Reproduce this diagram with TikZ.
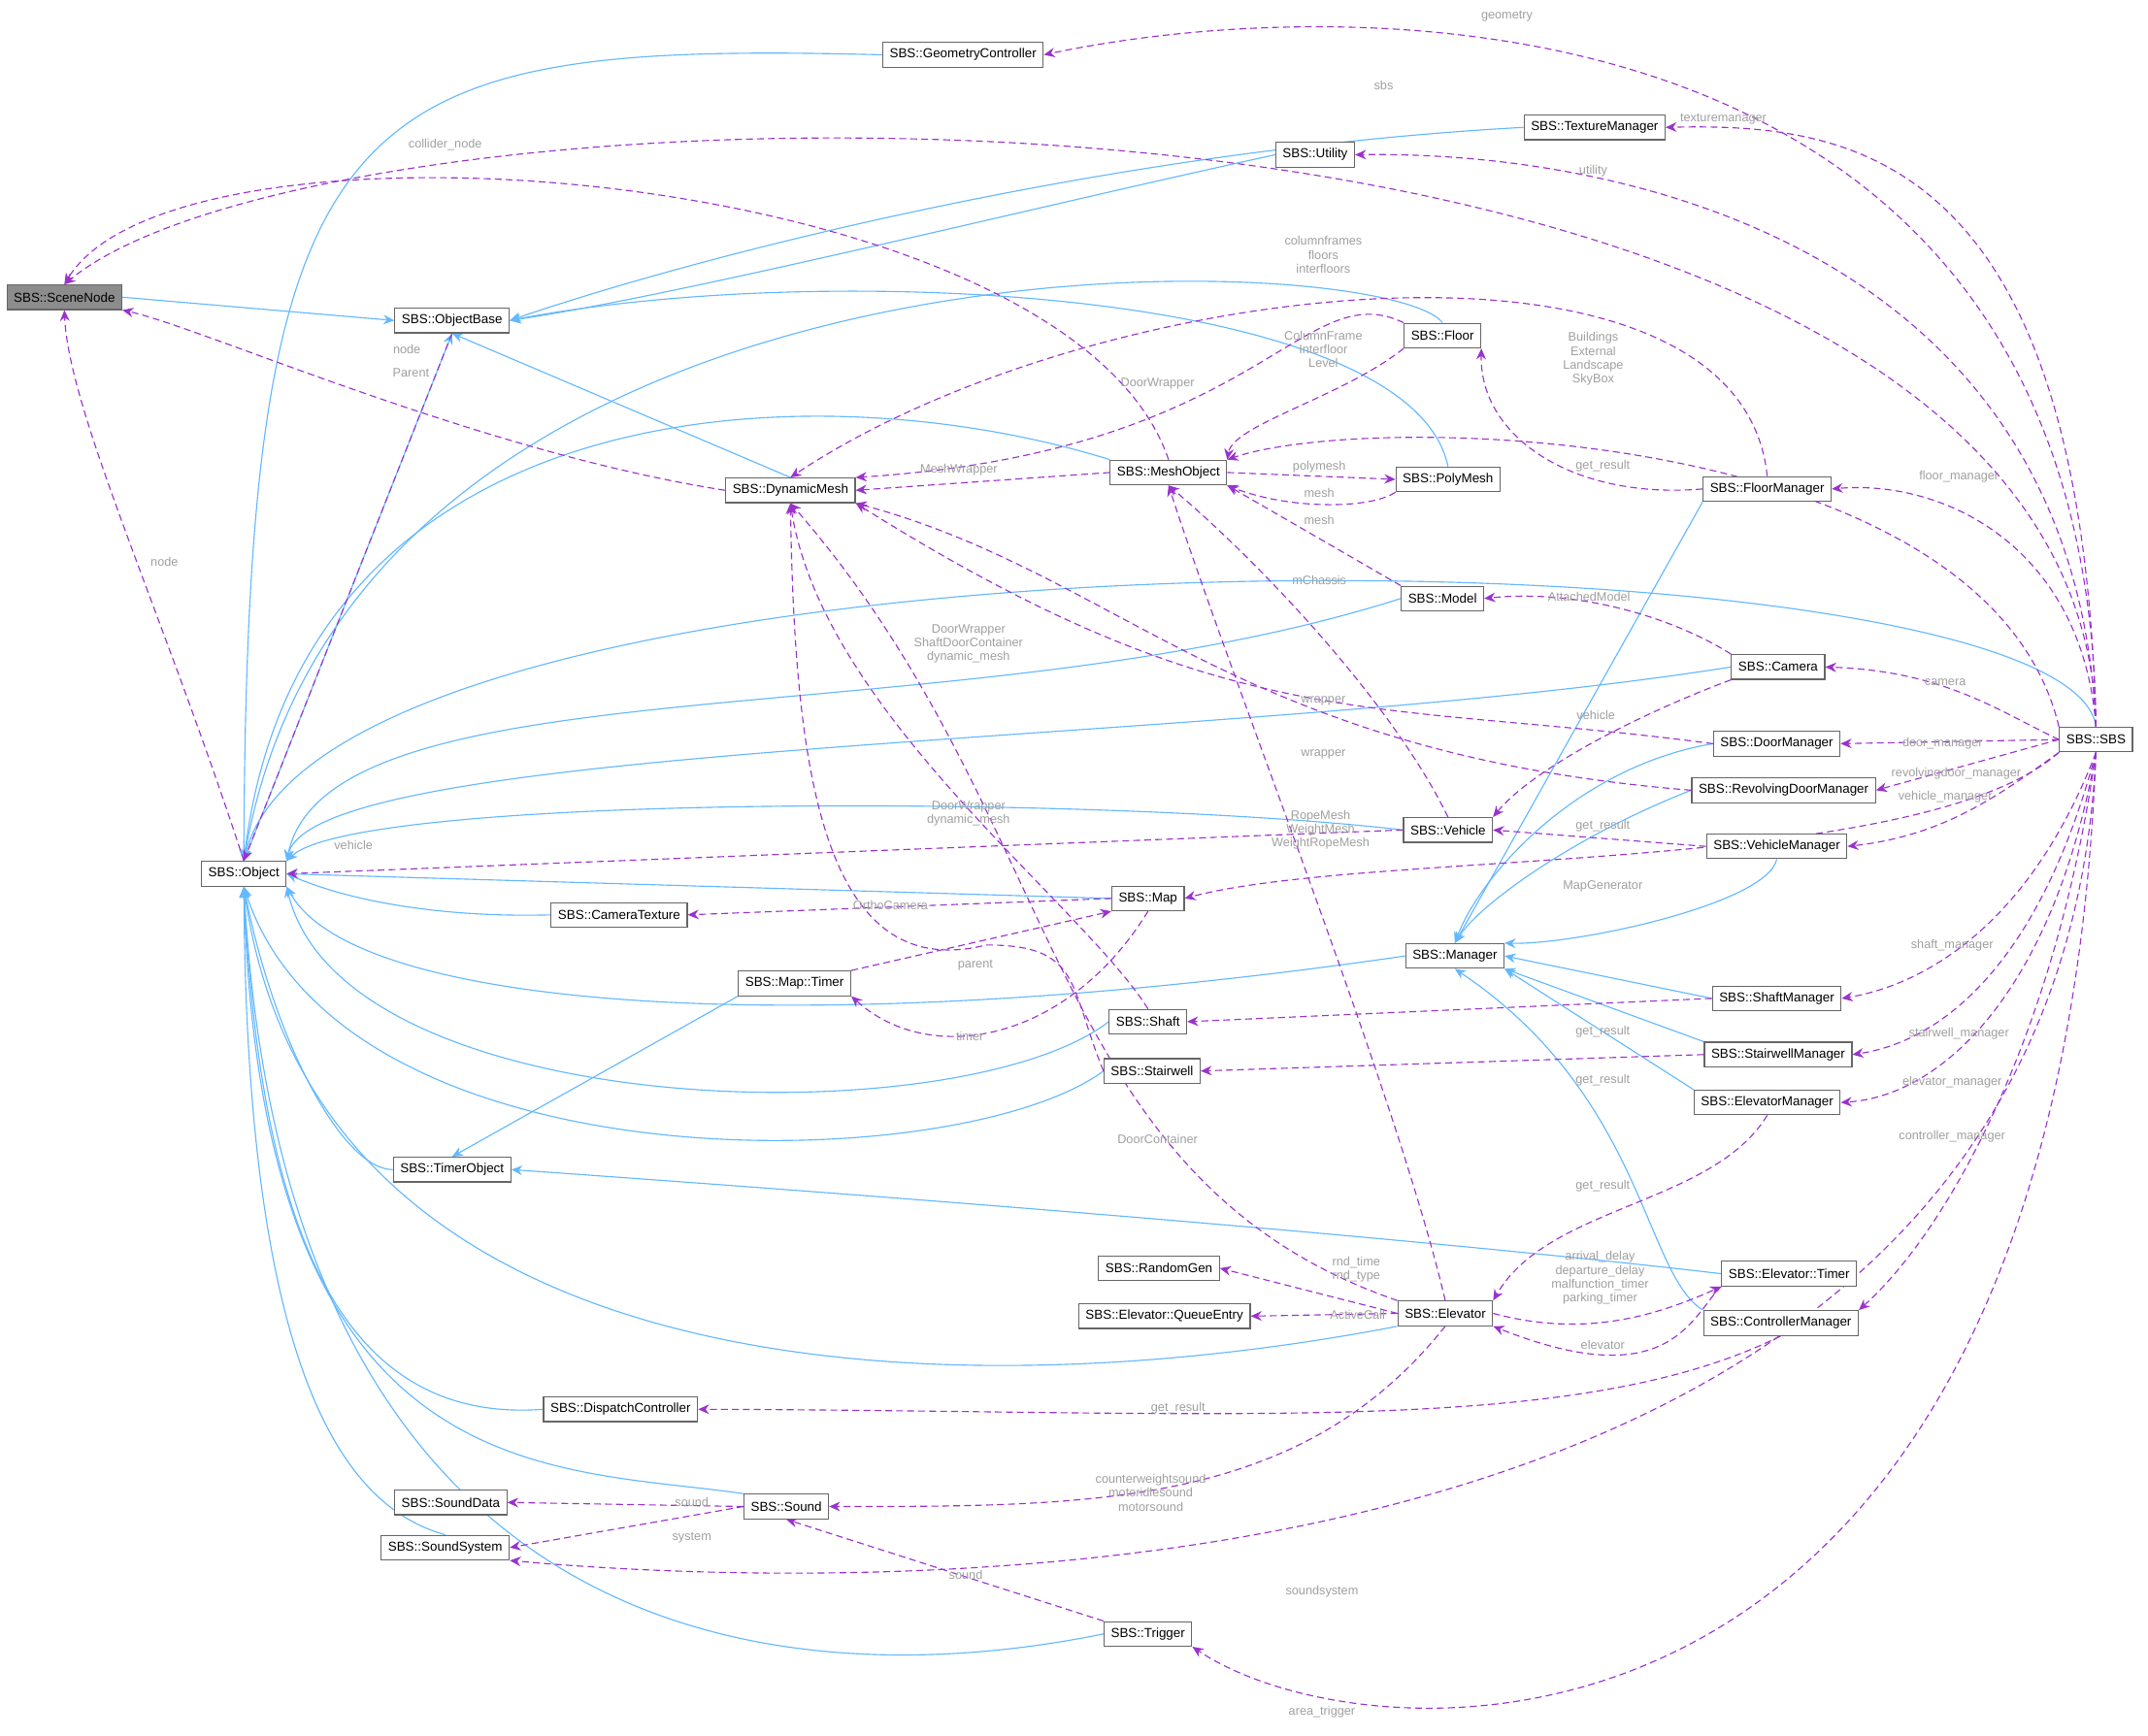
\documentclass[tikz,border=0pt]{standalone}
\usepackage{fontspec}
\setmainfont{Liberation Sans}
\usetikzlibrary{arrows.meta}
\definecolor{inhc}{HTML}{63B8FF}
\definecolor{usec}{HTML}{9A32CD}
\definecolor{lblc}{HTML}{A0A0A0}
\pgfdeclarelayer{bg}
\pgfsetlayers{bg,main}
\begin{document}
\begin{tikzpicture}[x=1pt,y=-1pt,
 cls/.style={draw=black!60,fill=white,line width=0.8pt,inner xsep=5pt,inner ysep=0pt,minimum height=18pt,font=\fontsize{9.5}{11}\selectfont},
 inh/.style={draw=inhc,line width=0.8pt,-{Stealth[length=8pt,width=7pt]}},
 use/.style={draw=usec,line width=0.8pt,dash pattern=on 5pt off 3pt,-{Stealth[length=8pt,width=7pt]}},
 lbl/.style={text=lblc,font=\fontsize{9}{10}\selectfont,align=center,inner sep=0pt}]
\useasboundingbox (0,0) rectangle (1568,1267);
% nodes
\node[cls,fill=black!45] (scn) at (47,217) {SBS::SceneNode};
\node[cls] (ob) at (330,234) {SBS::ObjectBase};
\node[cls] (gc) at (703,40) {SBS::GeometryController};
\node[cls] (tm) at (1164,93) {SBS::TextureManager};
\node[cls] (ut) at (960,113) {SBS::Utility};
\node[cls] (fl) at (1053,245) {SBS::Floor};
\node[cls] (dm) at (577,358) {SBS::DynamicMesh};
\node[cls] (mo) at (853,345) {SBS::MeshObject};
\node[cls] (pm) at (1057,350) {SBS::PolyMesh};
\node[cls] (fm) at (1290,357) {SBS::FloorManager};
\node[cls] (md) at (1053,437) {SBS::Model};
\node[cls] (cam) at (1298,487) {SBS::Camera};
\node[cls] (dmg) at (1297,543) {SBS::DoorManager};
\node[cls] (rdm) at (1302,577) {SBS::RevolvingDoorManager};
\node[cls] (veh) at (1057,606) {SBS::Vehicle};
\node[cls] (vm) at (1297,618) {SBS::VehicleManager};
\node[cls] (sbs) at (1530,540) {SBS::SBS};
\node[cls] (obj) at (178,638) {SBS::Object};
\node[cls] (map) at (838,656) {SBS::Map};
\node[cls] (ct) at (452,668) {SBS::CameraTexture};
\node[cls] (mgr) at (1062,698) {SBS::Manager};
\node[cls] (shm) at (1297,729) {SBS::ShaftManager};
\node[cls] (mt) at (580,718) {SBS::Map::Timer};
\node[cls] (sh) at (838,746) {SBS::Shaft};
\node[cls] (swm) at (1298,770) {SBS::StairwellManager};
\node[cls] (sw) at (841,782) {SBS::Stairwell};
\node[cls] (em) at (1290,805) {SBS::ElevatorManager};
\node[cls] (to) at (330,854) {SBS::TimerObject};
\node[cls] (rg) at (846,926) {SBS::RandomGen};
\node[cls] (qe) at (850,961) {SBS::Elevator::QueueEntry};
\node[cls] (el) at (1055,959) {SBS::Elevator};
\node[cls] (et) at (1306,930) {SBS::Elevator::Timer};
\node[cls] (cm) at (1300,966) {SBS::ControllerManager};
\node[cls] (dc) at (453,1029) {SBS::DispatchController};
\node[cls] (sd) at (329,1097) {SBS::SoundData};
\node[cls] (snd) at (574,1100) {SBS::Sound};
\node[cls] (ss) at (325,1130) {SBS::SoundSystem};
\node[cls] (tr) at (838,1193) {SBS::Trigger};
\begin{pgfonlayer}{bg}
\fill[white] (0,0) rectangle (1568,1267);
% inheritance
\draw[inh] (scn.east) -- (ob.west);
\draw[inh] (obj.north) -- (ob.south);
\draw[inh] (gc.west) .. controls (250,30) and (180,70) .. (obj.north);
\draw[inh] (tm.west) .. controls (800,110) and (500,190) .. (ob.east);
\draw[inh] (ut.west) .. controls (760,150) and (500,215) .. (ob.east);
\draw[inh] (fl.north) .. controls (1010,180) and (260,150) .. (obj.north);
\draw[inh] (pm.north) .. controls (1030,210) and (600,190) .. (ob.east);
\draw[inh] (dm.north) -- (ob.south);
\draw[inh] (mo.north west) .. controls (600,270) and (220,280) .. (obj.north);
\draw[inh] (sbs.north) .. controls (1510,380) and (240,370) .. (obj.north);
\draw[inh] (md.west) .. controls (700,540) and (240,480) .. (obj.north east);
\draw[inh] (cam.west) .. controls (900,545) and (230,540) .. (obj.north east);
\draw[inh] (veh.west) .. controls (800,580) and (260,580) .. (obj.north east);
\draw[inh] (map.west) -- (obj.east);
\draw[inh] (ct.west) .. controls (330,670) and (260,660) .. (obj.east);
\draw[inh] (mgr.west) .. controls (600,760) and (260,740) .. (obj.south east);
\draw[inh] (sh.west) .. controls (700,830) and (250,820) .. (obj.south east);
\draw[inh] (sw.west) .. controls (700,860) and (250,870) .. (obj.south);
\draw[inh] (to.west) .. controls (250,854) and (200,760) .. (obj.south);
\draw[inh] (mt.south west) -- (to.north);
\draw[inh] (et.west) .. controls (1000,900) and (600,870) .. (to.east);
\draw[inh] (el.south west) .. controls (700,1030) and (230,1020) .. (obj.south);
\draw[inh] (dc.west) .. controls (250,1040) and (190,900) .. (obj.south);
\draw[inh] (snd.north west) .. controls (400,1070) and (190,1090) .. (obj.south);
\draw[inh] (ss.north) .. controls (250,1100) and (180,1000) .. (obj.south);
\draw[inh] (tr.west) .. controls (600,1235) and (210,1230) .. (obj.south);
\draw[inh] (fm.south west) -- (mgr.north);
\draw[inh] (dmg.west) .. controls (1150,560) and (1080,640) .. (mgr.north);
\draw[inh] (rdm.west) .. controls (1150,610) and (1080,660) .. (mgr.north);
\draw[inh] (vm.south) .. controls (1290,660) and (1150,690) .. (mgr.north east);
\draw[inh] (shm.west) -- (mgr.east);
\draw[inh] (swm.north west) -- (mgr.south east);
\draw[inh] (em.north west) -- (mgr.south east);
\draw[inh] (cm.north west) .. controls (1200,930) and (1200,800) .. (mgr.south);
% usage
\draw[use] (sbs.north) .. controls (1525,-5) and (1000,-10) .. (gc.east);
\draw[use] (sbs.north) .. controls (1520,20) and (250,40) .. (scn.north);
\draw[use] (mo.north) .. controls (780,120) and (130,70) .. (scn.north);
\draw[use] (sbs.north) .. controls (1520,110) and (1350,90) .. (tm.east);
\draw[use] (sbs.north) .. controls (1515,190) and (1200,110) .. (ut.east);
\draw[use] (ob.south) -- (obj.north);
\draw[use] (dm.west) .. controls (350,330) and (150,240) .. (scn.south east);
\draw[use] (obj.north) .. controls (120,450) and (50,300) .. (scn.south);
\draw[use] (fm.north) .. controls (1270,150) and (800,200) .. (dm.north);
\draw[use] (fl.north west) .. controls (950,200) and (920,330) .. (dm.north east);
\draw[use] (fl.south west) .. controls (980,290) and (900,310) .. (mo.north east);
\draw[use] (mo.west) -- (dm.east);
\draw[use] (sbs.north west) .. controls (1450,310) and (1000,300) .. (mo.north east);
\draw[use] (mo.east) -- (pm.west);
\draw[use] (pm.south west) .. controls (1000,372) and (940,372) .. (mo.south east);
\draw[use] (md.north west) -- (mo.south east);
\draw[use] (veh.north) .. controls (1020,520) and (930,420) .. (mo.south);
\draw[use] (fm.west) .. controls (1150,365) and (1080,320) .. (fl.south east);
\draw[use] (sbs.north) .. controls (1520,400) and (1420,350) .. (fm.east);
\draw[use] (cam.north west) .. controls (1220,450) and (1150,430) .. (md.east);
\draw[use] (cam.south west) .. controls (1200,520) and (1120,560) .. (veh.north east);
\draw[use] (dmg.west) .. controls (1000,510) and (900,540) .. (dm.south east);
\draw[use] (rdm.west) .. controls (900,550) and (820,420) .. (dm.south east);
\draw[use] (sbs.west) .. controls (1460,520) and (1420,490) .. (cam.east);
\draw[use] (sbs.west) -- (dmg.east);
\draw[use] (sbs.west) -- (rdm.east);
\draw[use] (sbs.south west) .. controls (1460,580) and (1420,610) .. (vm.east);
\draw[use] (vm.west) -- (veh.east);
\draw[use] (veh.west) -- (obj.east);
\draw[use] (el.north) .. controls (1020,800) and (900,500) .. (mo.south);
\draw[use] (sbs.south west) .. controls (1400,640) and (1000,620) .. (map.east);
\draw[use] (map.west) -- (ct.east);
\draw[use] (mt.north east) -- (map.south west);
\draw[use] (map.south) .. controls (780,760) and (680,780) .. (mt.south east);
\draw[use] (sh.north) .. controls (790,660) and (600,520) .. (dm.south);
\draw[use] (sw.west) .. controls (780,720) and (790,690) .. (720,690) .. controls (600,720) and (580,560) .. (dm.south);
\draw[use] (el.north west) .. controls (760,860) and (780,600) .. (dm.south);
\draw[use] (sbs.south) .. controls (1480,680) and (1400,720) .. (shm.east);
\draw[use] (shm.west) -- (sh.east);
\draw[use] (sbs.south) .. controls (1490,700) and (1420,760) .. (swm.east);
\draw[use] (swm.west) -- (sw.east);
\draw[use] (sbs.south) .. controls (1500,720) and (1420,800) .. (em.east);
\draw[use] (em.south) .. controls (1250,880) and (1130,880) .. (el.north east);
\draw[use] (sbs.south) .. controls (1500,760) and (1420,900) .. (cm.north east);
\draw[use] (el.west) -- (rg.east);
\draw[use] (el.west) -- (qe.east);
\draw[use] (el.east) .. controls (1150,975) and (1200,965) .. (et.south west);
\draw[use] (et.south west) .. controls (1235,960) and (1220,1020) .. (el.south east);
\draw[use] (cm.south) .. controls (1150,1050) and (900,1030) .. (dc.east);
\draw[use] (el.south) .. controls (950,1100) and (800,1100) .. (snd.east);
\draw[use] (snd.west) -- (sd.east);
\draw[use] (snd.west) -- (ss.east);
\draw[use] (sbs.south) .. controls (1500,1200) and (600,1160) .. (ss.south east);
\draw[use] (tr.north west) -- (snd.south);
\draw[use] (sbs.south) .. controls (1500,1320) and (1000,1290) .. (tr.south east);
\end{pgfonlayer}
% edge labels
\node[lbl] (l1) at (1100,12) {geometry};
\node[lbl] (l2) at (1010,62) {sbs};
\node[lbl] (l3) at (325,106) {collider\_node};
\node[lbl] (l4) at (1258,87) {texturemanager};
\node[lbl] (l5) at (1163,125) {utility};
\node[lbl] (l6) at (300,272) {Parent};
\node[lbl] (l7) at (297,255) {node};
\node[lbl] (l8) at (120,410) {node};
\node[lbl] (l9) at (966,186) {columnframes\\floors\\interfloors};
\node[lbl] (l10) at (845,280) {DoorWrapper};
\node[lbl] (l11) at (966,255) {ColumnFrame\\Interfloor\\Level};
\node[lbl] (l12) at (700,343) {MeshWrapper};
\node[lbl] (l13) at (1163,262) {Buildings\\External\\Landscape\\SkyBox};
\node[lbl] (l14) at (963,341) {polymesh};
\node[lbl] (l15) at (963,360) {mesh};
\node[lbl] (l16) at (963,380) {mesh};
\node[lbl] (l17) at (963,424) {mChassis};
\node[lbl] (l18) at (1170,340) {get\_result};
\node[lbl] (l19) at (1430,348) {floor\_manager};
\node[lbl] (l20) at (1160,436) {AttachedModel};
\node[lbl] (l21) at (1165,522) {vehicle};
\node[lbl] (l22) at (966,512) {wrapper};
\node[lbl] (l23) at (966,551) {wrapper};
\node[lbl] (l24) at (1420,498) {camera};
\node[lbl] (l25) at (1418,543) {door\_manager};
\node[lbl] (l26) at (1428,565) {revolvingdoor\_manager};
\node[lbl] (l27) at (1420,582) {vehicle\_manager};
\node[lbl] (l28) at (1170,603) {get\_result};
\node[lbl] (l29) at (258,617) {vehicle};
\node[lbl] (l30) at (964,606) {RopeMesh\\WeightMesh\\WeightRopeMesh};
\node[lbl] (l31) at (1170,647) {MapGenerator};
\node[lbl] (l32) at (650,661) {OrthoCamera};
\node[lbl] (l33) at (712,705) {parent};
\node[lbl] (l34) at (708,757) {timer};
\node[lbl] (l35) at (707,470) {DoorWrapper\\ShaftDoorContainer\\dynamic\_mesh};
\node[lbl] (l36) at (707,594) {DoorWrapper\\dynamic\_mesh};
\node[lbl] (l37) at (845,832) {DoorContainer};
\node[lbl] (l38) at (1425,690) {shaft\_manager};
\node[lbl] (l39) at (1170,753) {get\_result};
\node[lbl] (l40) at (1430,755) {stairwell\_manager};
\node[lbl] (l41) at (1170,789) {get\_result};
\node[lbl] (l42) at (1425,790) {elevator\_manager};
\node[lbl] (l43) at (1170,866) {get\_result};
\node[lbl] (l44) at (1425,830) {controller\_manager};
\node[lbl] (l45) at (990,927) {rnd\_time\\rnd\_type};
\node[lbl] (l46) at (991,960) {ActiveCall};
\node[lbl] (l47) at (1168,933) {arrival\_delay\\departure\_delay\\malfunction\_timer\\parking\_timer};
\node[lbl] (l48) at (1170,982) {elevator};
\node[lbl] (l49) at (860,1028) {get\_result};
\node[lbl] (l50) at (840,1090) {counterweightsound\\motoridlesound\\motorsound};
\node[lbl] (l51) at (505,1097) {sound};
\node[lbl] (l52) at (505,1123) {system};
\node[lbl] (l53) at (965,1162) {soundsystem};
\node[lbl] (l54) at (705,1150) {sound};
\node[lbl] (l55) at (965,1250) {area\_trigger};
\end{tikzpicture}
\end{document}
